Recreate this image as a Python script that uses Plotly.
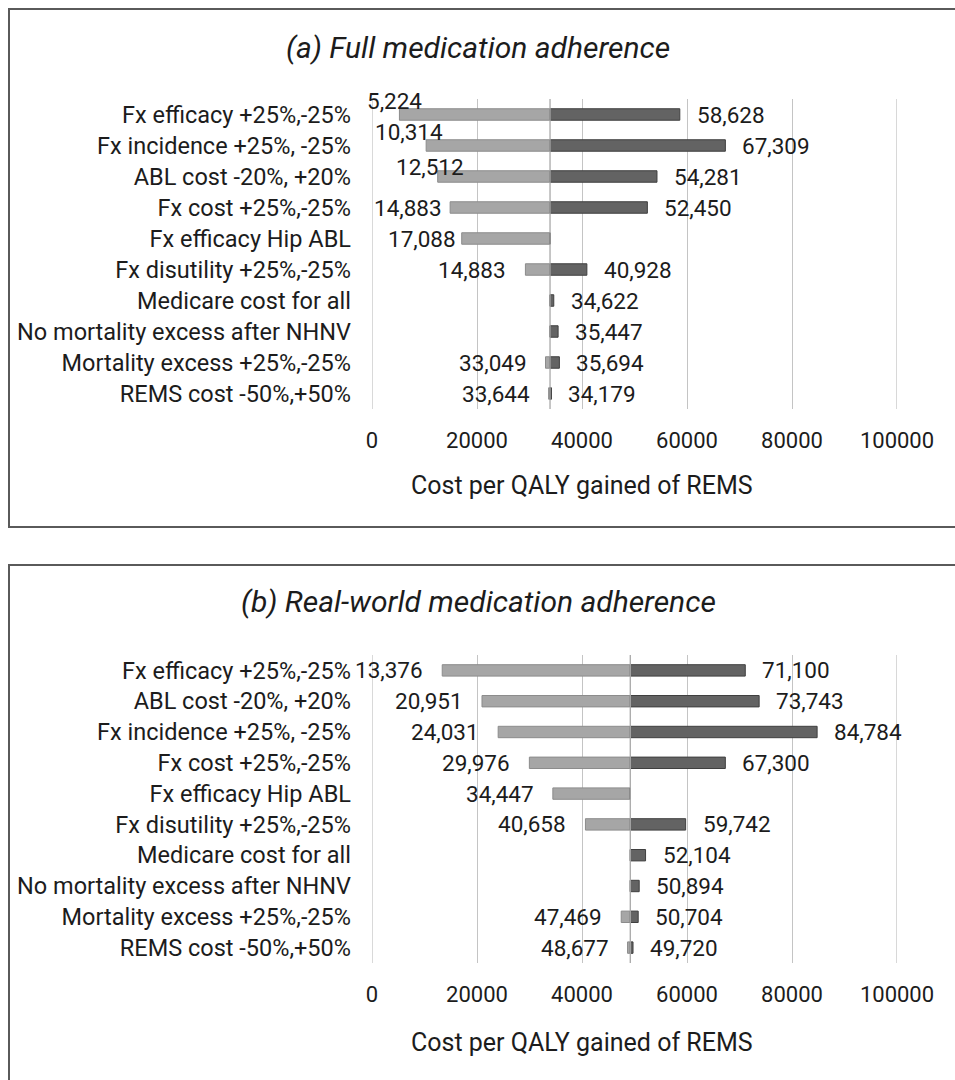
import plotly.graph_objects as go

# ---------------- data ----------------
categories_a = [
    "Fx efficacy +25%,-25%",
    "Fx incidence +25%, -25%",
    "ABL cost -20%, +20%",
    "Fx cost +25%,-25%",
    "Fx efficacy Hip ABL",
    "Fx disutility +25%,-25%",
    "Medicare cost for all",
    "No mortality excess after NHNV",
    "Mortality excess +25%,-25%",
    "REMS cost -50%,+50%",
]
base_a = 33911
low_a = [5224, 10314, 12512, 14883, 17088, 29220, None, None, 33049, 33644]
low_labels_a = ["5,224", "10,314", "12,512", "14,883", "17,088", "14,883", "", "", "33,049", "33,644"]
high_a = [58628, 67309, 54281, 52450, None, 40928, 34622, 35447, 35694, 34179]

categories_b = [
    "Fx efficacy +25%,-25%",
    "ABL cost -20%, +20%",
    "Fx incidence +25%, -25%",
    "Fx cost +25%,-25%",
    "Fx efficacy Hip ABL",
    "Fx disutility +25%,-25%",
    "Medicare cost for all",
    "No mortality excess after NHNV",
    "Mortality excess +25%,-25%",
    "REMS cost -50%,+50%",
]
base_b = 49199
low_b = [13376, 20951, 24031, 29976, 34447, 40658, None, None, 47469, 48677]
low_labels_b = ["13,376", "20,951", "24,031", "29,976", "34,447", "40,658", "", "", "47,469", "48,677"]
high_b = [71100, 73743, 84784, 67300, None, 59742, 52104, 50894, 50704, 49720]

x_ticks = [0, 20000, 40000, 60000, 80000, 100000]
x_tick_text = ["0", "20000", "40000", "60000", "80000", "100000"]
titles = ["(a) Full medication adherence", "(b) Real-world medication adherence"]
axis_title = "Cost per QALY gained of REMS"

# ---------------- style ----------------
W, H = 955, 1080
FONT = "Roboto"
TXT = "#1c1c1c"
LIGHT, LIGHT_LINE = "#a6a6a6", "#8c8c8c"
DARK, DARK_LINE = "#636363", "#3f3f3f"
GRID = "#c4c4c4"

# left-label placement tweaks for panel (a) (Excel moved these labels)
left_style_a = [("center", -5, 14), ("center", -17, 14), ("center", -8, 10), ("right", -6, 0), ("right", -4, 0),
                ("right", -17, 0), ("right", -17, 0), ("right", -17, 0), ("right", -17, 0), ("right", -17, 0)]
left_style_b = [("right", -17, 0)] * 10

plot_x0, plot_x1 = 372, 897
panels = [
    dict(cats=categories_a, base=base_a, low=low_a, lowlab=low_labels_a, high=high_a, top=99, bottom=409,
         title_y=48, axtitle_y=485, box=(9, 527), lstyle=left_style_a),
    dict(cats=categories_b, base=base_b, low=low_b, lowlab=low_labels_b, high=high_b, top=655, bottom=963,
         title_y=602, axtitle_y=1042, box=(565, 1100), lstyle=left_style_b),
]


def px(x):
    return x / W


def py(y):
    return (H - y) / H


fig = go.Figure()
annotations = []
shapes = []

for i, p in enumerate(panels):
    xa = "x" if i == 0 else "x2"
    ya = "y" if i == 0 else "y2"
    base = p["base"]
    lows = [base - v if v is not None else 0 for v in p["low"]]
    lbase = [v if v is not None else base for v in p["low"]]
    highs = [v - base if v is not None else 0 for v in p["high"]]

    # edge gridlines (Plotly omits them at the range ends)
    for xv in (x_ticks[0], x_ticks[-1]):
        shapes.append(dict(type="line", xref=xa, yref=f"{ya} domain", x0=xv, x1=xv, y0=0, y1=1,
                           line=dict(color=GRID, width=1.3), layer="below"))

    fig.add_trace(go.Bar(
        y=p["cats"], x=lows, base=lbase, orientation="h", width=0.37,
        marker=dict(color=LIGHT, line=dict(color=LIGHT_LINE, width=1)),
        xaxis=xa, yaxis=ya, showlegend=False, hoverinfo="skip"))
    fig.add_trace(go.Bar(
        y=p["cats"], x=highs, base=[base] * len(highs), orientation="h", width=0.37,
        marker=dict(color=DARK, line=dict(color=DARK_LINE, width=1)),
        xaxis=xa, yaxis=ya, showlegend=False, hoverinfo="skip"))

    # data labels
    for cat, v, lab, st in zip(p["cats"], p["low"], p["lowlab"], p["lstyle"]):
        if v is None:
            continue
        annotations.append(dict(x=v, y=cat, xref=xa, yref=ya, text=lab, showarrow=False,
                                xanchor=st[0], yanchor="middle", xshift=st[1], yshift=st[2],
                                font=dict(family=FONT, size=22.5, color=TXT)))
    for cat, v in zip(p["cats"], p["high"]):
        if v is None:
            continue
        annotations.append(dict(x=v, y=cat, xref=xa, yref=ya, text=f"{v:,}", showarrow=False,
                                xanchor="left", yanchor="middle", xshift=15,
                                font=dict(family=FONT, size=22.5, color=TXT)))

    # base line
    shapes.append(dict(type="line", xref=xa, yref=f"{ya} domain", x0=base, x1=base, y0=0, y1=1,
                       line=dict(color="#a8a8a8", width=1.3), layer="above"))

    # titles
    annotations.append(dict(x=px(478), y=py(p["title_y"]), xref="paper", yref="paper", text=titles[i],
                            showarrow=False, xanchor="center", yanchor="middle",
                            font=dict(family=FONT, size=30, color=TXT, style="italic")))
    annotations.append(dict(x=px(582), y=py(p["axtitle_y"]), xref="paper", yref="paper", text=axis_title,
                            showarrow=False, xanchor="center", yanchor="middle",
                            font=dict(family=FONT, size=25, color=TXT)))
    # panel border
    shapes.append(dict(type="rect", xref="paper", yref="paper", x0=px(9), x1=1.05,
                       y0=py(p["box"][1]), y1=py(p["box"][0]),
                       line=dict(color="#5a5a5a", width=2), fillcolor="rgba(0,0,0,0)", layer="below"))

    xdom = [px(plot_x0), px(plot_x1)]
    ydom = [py(p["bottom"]), py(p["top"])]
    xkey = "xaxis" if i == 0 else "xaxis2"
    ykey = "yaxis" if i == 0 else "yaxis2"
    fig.update_layout(**{
        xkey: dict(domain=xdom, anchor=ya, range=[0, 100000], tickvals=x_ticks, ticktext=x_tick_text,
                   showgrid=True, gridcolor=GRID, gridwidth=1.3, zeroline=False, showline=False,
                   ticks="", ticklabelstandoff=16, tickfont=dict(family=FONT, size=22, color=TXT),
                   fixedrange=True, automargin=False),
        ykey: dict(domain=ydom, anchor=xa, type="category", categoryorder="array", categoryarray=p["cats"],
                   range=[9.5, -0.5], showgrid=False, zeroline=False, showline=False, ticks="",
                   ticklabelstandoff=20, tickfont=dict(family=FONT, size=23.5, color=TXT), fixedrange=True,
                   automargin=False),
    })

fig.update_layout(
    width=W, height=H, margin=dict(l=0, r=0, t=0, b=0, autoexpand=False),
    paper_bgcolor="white", plot_bgcolor="white", barmode="overlay",
    annotations=annotations, shapes=shapes, showlegend=False,
)

fig.write_html("out.html")
